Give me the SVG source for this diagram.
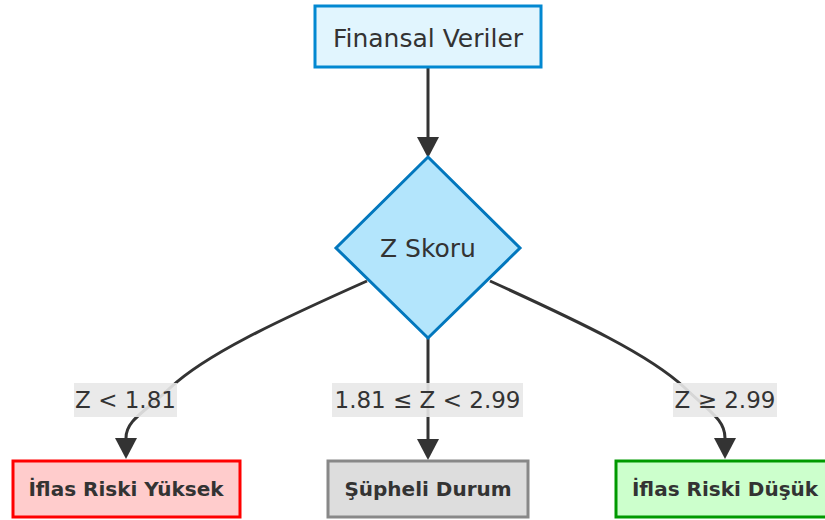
<svg xmlns="http://www.w3.org/2000/svg" width="825" height="520" viewBox="0 0 825 520">
<style>
.lbl{font-family:"DejaVu Sans","Liberation Sans",sans-serif;font-size:23px;fill:#333;text-anchor:middle;dominant-baseline:central}
.nt{font-family:"DejaVu Sans","Liberation Sans",sans-serif;font-size:25px;fill:#333;text-anchor:middle;dominant-baseline:central}
.bt{font-family:"DejaVu Sans","Liberation Sans",sans-serif;font-size:20px;font-weight:bold;fill:#333;text-anchor:middle;dominant-baseline:central}
.edge{fill:none;stroke:#333;stroke-width:3}
.lbg{fill:#e8e8e8;fill-opacity:0.9}
</style>
<defs>
<marker id="arr" markerUnits="userSpaceOnUse" markerWidth="22" markerHeight="22" refX="0" refY="11" orient="auto" viewBox="0 0 22 22">
<path d="M0,0 L21,11 L0,22 z" fill="#333"/>
</marker>
</defs>
<rect width="825" height="520" fill="#ffffff"/>
<g id="connectors">
<path class="edge" d="M428,67 L428,137" marker-end="url(#arr)"/>
<path class="edge" d="M367,281 C275,322 205,355 170,388 C145,412 126,420 126,438" marker-end="url(#arr)"/>
<path class="edge" d="M428,338 L428,439" marker-end="url(#arr)"/>
<path class="edge" d="M490,281 C580,322 650,355 685,388 C710,412 725,420 725,438" marker-end="url(#arr)"/>
</g>
<g id="edge-labels">
<g id="label-low"><rect class="lbg" x="74" y="383" width="103" height="34"/><text class="lbl" x="125.5" y="400">Z &lt; 1.81</text></g>
<g id="label-mid"><rect class="lbg" x="332" y="383" width="191" height="34"/><text class="lbl" x="427.5" y="400">1.81 ≤ Z &lt; 2.99</text></g>
<g id="label-high"><rect class="lbg" x="673" y="383" width="104" height="34"/><text class="lbl" x="725" y="400">Z ≥ 2.99</text></g>
</g>
<g id="finansal">
<rect x="315" y="6" width="226" height="61" fill="#e1f5fe" stroke="#0288d1" stroke-width="3"/>
<text class="nt" x="428" y="38">Finansal Veriler</text>
</g>
<g id="zskoru">
<polygon points="428,157 520,248 428,338 336,248" fill="#b3e5fc" stroke="#0277bd" stroke-width="3"/>
<text class="nt" x="428" y="248">Z Skoru</text>
</g>
<g id="yuksek">
<rect x="13" y="461" width="227" height="56" fill="#ffcccc" stroke="#ff0000" stroke-width="3"/>
<text class="bt" x="126" y="489">İflas Riski Yüksek</text>
</g>
<g id="supheli">
<rect x="328" y="461" width="200" height="56" fill="#dddddd" stroke="#888888" stroke-width="3"/>
<text class="bt" x="428" y="489">Şüpheli Durum</text>
</g>
<g id="dusuk">
<rect x="616" y="461" width="227" height="56" fill="#ccffcc" stroke="#009900" stroke-width="3"/>
<text class="bt" x="725" y="489">İflas Riski Düşük</text>
</g>
</svg>
